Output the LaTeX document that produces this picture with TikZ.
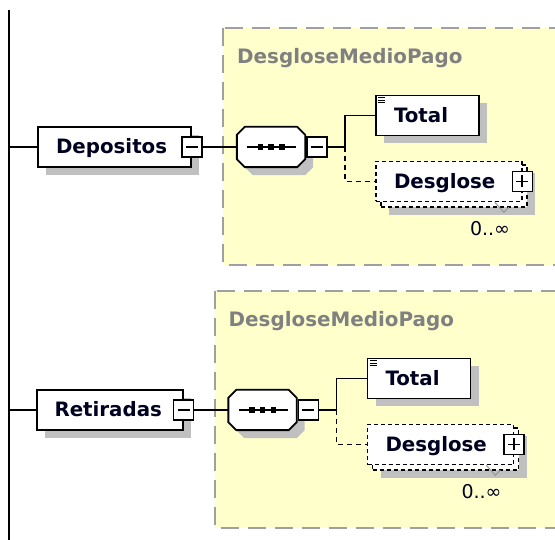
\documentclass[tikz,border=0pt]{standalone}
\usepackage{fontspec}
\setmainfont{DejaVu Sans}
\usetikzlibrary{calc,shadows}
\definecolor{grpyellow}{RGB}{255,255,204}
\definecolor{grpborder}{RGB}{160,160,160}
\definecolor{shadowgray}{RGB}{192,192,192}
\definecolor{titlegray}{RGB}{128,128,128}
\definecolor{lbltext}{RGB}{0,0,32}
\definecolor{markgray}{RGB}{150,150,150}
\tikzset{
  dropsh/.style={drop shadow={shadow xshift=8pt, shadow yshift=-8pt, fill=shadowgray, opacity=1}},
  elbox/.style={draw=black, line width=1.9pt, fill=white, rectangle, inner xsep=18pt, inner ysep=0pt,
    minimum height=40pt, text height=13.5pt, text depth=0pt, align=left,
    font=\fontsize{19.8}{22}\selectfont\bfseries, text=lbltext},
  optbox/.style={elbox, dash pattern=on 4pt off 3pt, line width=1.6pt},
  backbox/.style={draw=black, dash pattern=on 4pt off 3pt, line width=1.6pt, fill=white,
    minimum height=42pt, minimum width=146pt, inner sep=0pt},
  btn/.style={draw=black, line width=1.6pt, fill=white, minimum size=20pt, inner sep=0pt},
  ghost/.style={draw=none, inner sep=0pt, minimum width=68pt, minimum height=40pt},
  conn/.style={line width=1.7pt},
  optconn/.style={line width=1.6pt, dash pattern=on 5pt off 4pt},
  grp/.style={fill=grpyellow, draw=grpborder, line width=2pt, dash pattern=on 18pt off 9pt},
  grptitle/.style={font=\fontsize{19.9}{22}\selectfont\bfseries, text=titlegray, anchor=base west, inner sep=0pt},
  multlbl/.style={font=\fontsize{19}{21}\selectfont, text=lbltext, inner sep=0pt},
  seqshape/.style={draw=black, line width=1.9pt, fill=white},
  icon/.style={line width=1pt},
}
% #1 prefix, #2 shift, #3 label, #4 text width of the main box
\newcommand\xsdgroup[4]{%
\begin{scope}[shift={(#2)}]
  \path[grp] (223,28) rectangle (590,265);
  \node[grptitle] (#1title) at (237,64) {DesgloseMedioPago};
  % main element
  \node[elbox, dropsh, text width=#4pt, anchor=east] (#1box) at (192,147) {#3};
  \node[btn] (#1bbox) at (#1box.east) {};
  \draw[conn] ([xshift=-6pt]#1bbox.center) -- ([xshift=6pt]#1bbox.center);
  % sequence compositor
  \node[ghost] (#1seq) at (271,147) {};
  \draw[seqshape, dropsh]
    ([xshift=8pt]#1seq.north west) -- ([xshift=-8pt]#1seq.north east) --
    ([yshift=-8pt]#1seq.north east) -- ([yshift=8pt]#1seq.south east) --
    ([xshift=-8pt]#1seq.south east) -- ([xshift=8pt]#1seq.south west) --
    ([yshift=8pt]#1seq.south west) -- ([yshift=-8pt]#1seq.north west) -- cycle;
  \draw[conn] ([xshift=-24pt]#1seq.center) -- ([xshift=25pt]#1seq.center);
  \fill ([xshift=-13.5pt,yshift=-2.7pt]#1seq.center) rectangle ([xshift=-8pt,yshift=2.7pt]#1seq.center);
  \fill ([xshift=-2.7pt,yshift=-2.7pt]#1seq.center) rectangle ([xshift=2.7pt,yshift=2.7pt]#1seq.center);
  \fill ([xshift=8pt,yshift=-2.7pt]#1seq.center) rectangle ([xshift=13.5pt,yshift=2.7pt]#1seq.center);
  \node[btn, anchor=west] (#1bseq) at ([xshift=0.8pt]#1seq.east) {};
  \draw[conn] ([xshift=-6pt]#1bseq.center) -- ([xshift=6pt]#1bseq.center);
  % Total
  \node[elbox, dropsh, text width=67pt] (#1total) at (427.5,115.5) {Total};
  \draw[icon] ([xshift=3pt,yshift=-3pt]#1total.north west) -- ([xshift=10pt,yshift=-3pt]#1total.north west);
  \draw[icon] ([xshift=3pt,yshift=-5.5pt]#1total.north west) -- ([xshift=10pt,yshift=-5.5pt]#1total.north west);
  \draw[icon] ([xshift=3pt,yshift=-8pt]#1total.north west) -- ([xshift=10pt,yshift=-8pt]#1total.north west);
  % Desglose (0..unbounded)
  \node[backbox, dropsh] (#1desgb) at (454,186) {};
  \node[optbox, text width=110pt] (#1desg) at (449,181.5) {Desglose};
  \node[btn] (#1bdesg) at ([xshift=-0.5pt]#1desg.east) {};
  \draw[conn] ([xshift=-6pt]#1bdesg.center) -- ([xshift=6pt]#1bdesg.center);
  \draw[conn] ([yshift=-6pt]#1bdesg.center) -- ([yshift=6pt]#1bdesg.center);
  \draw[markgray, line width=1pt] ([xshift=-28pt]#1desg.south east) --
    ([xshift=-19pt,yshift=-10pt]#1desg.south east) -- ([xshift=-14pt,yshift=-5pt]#1desg.south east);
  \node[multlbl] (#1mult) at (490,229) {0..∞};
  % connectors
  \coordinate (#1j) at (345,147);
  \draw[conn] (vtop |- #1box.west) -- (#1box.west);
  \draw[conn] (#1bbox.east) -- (#1seq.west);
  \draw[conn] (#1bseq.east) -- (#1j);
  \draw[conn] (#1j) |- (#1total.west);
  \draw[optconn] (#1j) |- (#1desg.west);
\end{scope}}

\begin{document}
\begin{tikzpicture}[x=1pt,y=-1pt]
  \useasboundingbox (0,0) rectangle (555,540);
  \clip (0,0) rectangle (555,540);
  \coordinate (vtop) at (9,10);
  \coordinate (vbot) at (9,545);
  \draw[line width=2pt] (vtop) -- (vbot);
  \xsdgroup{a}{0,0}{Depositos}{117}
  \xsdgroup{b}{-8.5,263}{Retiradas}{110}
\end{tikzpicture}
\end{document}
